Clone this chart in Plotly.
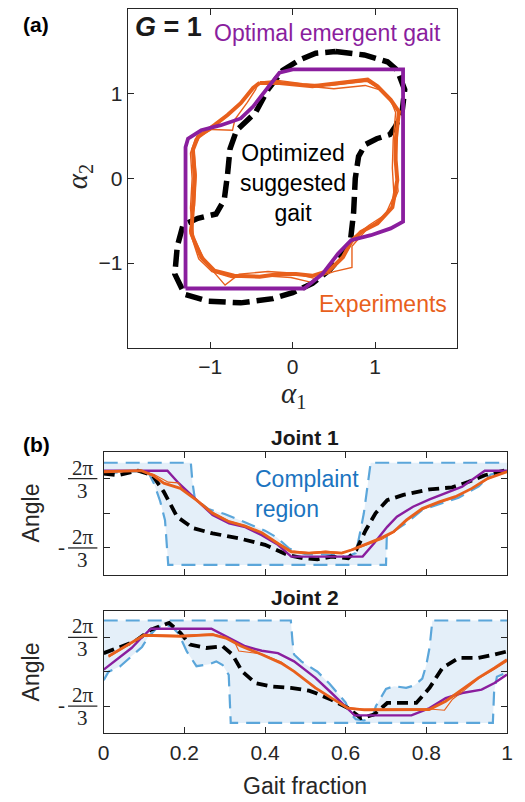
import numpy as np
import plotly.graph_objects as go

W, H = 525, 802
TP = 2 * np.pi / 3  # 2*pi/3, tick value in panel (b)

# ---------------- Panel (a): shape space (alpha1, alpha2) ----------------
opt_a1 = [-1.30, 0.14, 0.36, 0.55, 0.71, 0.95, 1.19, 1.34, 1.34, 0.00, -0.16, -0.32, -0.48, -0.63, -0.87, -1.11, -1.27, -1.30, -1.30]
opt_a2 = [-1.30, -1.30, -1.13, -0.89, -0.73, -0.67, -0.59, -0.51, 1.29, 1.29, 1.25, 1.05, 0.85, 0.71, 0.63, 0.57, 0.47, 0.37, -1.30]

sug_a1 = [0.52, 0.87, 1.15, 1.27, 1.36, 1.33, 1.25, 1.18, 1.02, 0.88, 0.80, 0.76, 0.74, 0.70, 0.58, 0.45, 0.24, 0.00, -0.24, -0.63, -1.03, -1.31, -1.43, -1.40, -1.33, -1.15, -0.93, -0.83, -0.79, -0.76, -0.68, -0.45, -0.30, -0.12, 0.08, 0.28, 0.52]
sug_a2 = [1.50, 1.46, 1.38, 1.28, 1.05, 0.80, 0.62, 0.52, 0.47, 0.40, 0.26, 0.00, -0.40, -0.75, -0.93, -1.08, -1.24, -1.35, -1.42, -1.47, -1.45, -1.37, -1.13, -0.80, -0.55, -0.47, -0.42, -0.25, 0.05, 0.35, 0.57, 0.78, 1.05, 1.28, 1.40, 1.48, 1.50]

exp_a1 = [-0.40, -0.16, 0.24, 0.63, 0.91, 1.03, 1.19, 1.29, 1.25, 1.25, 1.27, 1.21, 1.03, 0.83, 0.71, 0.61, 0.44, 0.24, 0.04, -0.16, -0.40, -0.71, -0.95, -1.11, -1.23, -1.21, -1.19, -1.21, -1.15, -0.95, -0.79, -0.63, -0.48, -0.40]
exp_a2 = [1.13, 1.13, 1.09, 1.13, 1.17, 1.09, 0.93, 0.79, 0.45, 0.22, -0.02, -0.34, -0.53, -0.63, -0.75, -0.93, -1.09, -1.15, -1.13, -1.13, -1.16, -1.15, -1.09, -0.93, -0.65, -0.34, 0.02, 0.34, 0.49, 0.63, 0.75, 0.89, 1.07, 1.13]

exp_b_a1 = [-0.42, -0.22, 0.10, 0.50, 0.88, 1.05, 1.20, 1.25, 1.22, 1.21, 1.23, 1.12, 0.90, 0.72, 0.72, 0.50, 0.26, 0.02, -0.30, -0.65, -0.82, -1.05, -1.20, -1.24, -1.22, -1.24, -1.18, -0.98, -0.73, -0.70, -0.55, -0.45, -0.42]
exp_b_a2 = [1.12, 1.13, 1.10, 1.06, 1.10, 1.05, 0.90, 0.78, 0.45, 0.12, -0.20, -0.44, -0.60, -0.80, -1.05, -1.10, -1.18, -1.12, -1.10, -1.13, -1.26, -1.00, -0.70, -0.35, 0.00, 0.30, 0.47, 0.58, 0.57, 0.70, 0.90, 1.05, 1.12]

exp_c_a1 = [-0.38, -0.18, 0.12, 0.45, 0.90, 1.02, 1.17, 1.28, 1.27, 1.25, 1.28, 1.17, 0.93, 0.73, 0.62, 0.46, 0.24, -0.02, -0.35, -0.74, -0.98, -1.14, -1.25, -1.19, -1.17, -1.20, -1.12, -0.92, -0.76, -0.60, -0.46, -0.38]
exp_c_a2 = [1.14, 1.16, 1.12, 1.10, 1.15, 1.08, 0.95, 0.82, 0.45, 0.16, -0.15, -0.40, -0.55, -0.70, -0.90, -1.06, -1.23, -1.17, -1.15, -1.17, -1.10, -0.95, -0.62, -0.32, 0.04, 0.36, 0.51, 0.65, 0.78, 0.92, 1.09, 1.14]

# ---------------- Panel (b): joint angles vs gait fraction ----------------
# angle values below are in units of 2*pi/3 (converted to radians when plotted)
j1_opt_t = [0, 0.158, 0.186, 0.23, 0.27, 0.311, 0.351, 0.392, 0.432, 0.465, 0.642, 0.67, 0.703, 0.727, 0.767, 0.808, 0.848, 0.889, 0.945, 1.0]
j1_opt_u = [1.23, 1.23, 0.87, 0.38, -0.05, -0.29, -0.40, -0.63, -0.91, -1.25, -1.25, -0.87, -0.39, -0.10, 0.19, 0.40, 0.58, 0.77, 1.23, 1.23]

j1_sug_t = [0, 0.036, 0.085, 0.121, 0.149, 0.182, 0.222, 0.27, 0.335, 0.40, 0.456, 0.497, 0.53, 0.565, 0.606, 0.626, 0.65, 0.674, 0.703, 0.743, 0.808, 0.864, 0.905, 0.945, 1.0]
j1_sug_u = [1.15, 1.10, 1.23, 1.10, 0.62, -0.10, -0.43, -0.58, -0.72, -0.91, -1.20, -1.30, -1.33, -1.25, -1.30, -1.06, -0.48, 0.0, 0.38, 0.53, 0.69, 0.75, 0.91, 1.10, 1.25]

j1_exp_t = [0, 0.093, 0.121, 0.149, 0.19, 0.23, 0.27, 0.311, 0.351, 0.392, 0.432, 0.465, 0.507, 0.55, 0.59, 0.614, 0.646, 0.686, 0.719, 0.751, 0.79, 0.832, 0.872, 0.913, 0.953, 1.0]
j1_exp_u = [1.20, 1.23, 1.10, 0.87, 0.72, 0.38, 0.0, -0.24, -0.37, -0.56, -0.87, -1.11, -1.15, -1.12, -1.15, -1.06, -0.91, -0.72, -0.53, -0.19, 0.14, 0.33, 0.48, 0.72, 1.01, 1.20]

j1_exp2_t = [0, 0.09, 0.125, 0.16, 0.185, 0.195, 0.23, 0.27, 0.31, 0.35, 0.39, 0.43, 0.465, 0.51, 0.55, 0.59, 0.62, 0.65, 0.69, 0.72, 0.75, 0.79, 0.83, 0.87, 0.91, 0.95, 1.0]
j1_exp2_u = [1.22, 1.24, 1.12, 0.90, 0.88, 0.70, 0.40, 0.03, -0.22, -0.35, -0.55, -0.85, -1.09, -1.13, -1.09, -1.13, -1.05, -0.92, -0.75, -0.55, -0.22, 0.10, 0.30, 0.46, 0.70, 0.98, 1.22]

j1_up_t = [0, 0.216, 0.220, 0.226, 0.26, 0.30, 0.35, 0.40, 0.43, 0.46, 0.50, 0.58, 0.60, 0.625, 0.635, 0.645, 0.652, 0.658, 0.662, 1.0]
j1_up_u = [1.46, 1.46, 0.90, 0.42, 0.12, -0.02, -0.26, -0.50, -0.70, -1.02, -1.18, -1.20, -1.26, -1.15, -0.60, 0.0, 0.60, 1.10, 1.46, 1.46]
j1_lo_t = [0, 0.08, 0.11, 0.125, 0.14, 0.152, 0.16, 0.70, 0.702, 0.72, 0.75, 0.79, 0.83, 0.88, 0.93, 0.96, 1.0]
j1_lo_u = [1.15, 1.22, 1.20, 0.85, 0.35, -0.20, -1.49, -1.49, -0.65, -0.52, -0.28, 0.10, 0.25, 0.45, 0.78, 1.12, 1.22]

j2_opt_t = [0, 0.036, 0.069, 0.093, 0.117, 0.267, 0.311, 0.351, 0.392, 0.432, 0.472, 0.525, 0.565, 0.598, 0.622, 0.763, 0.808, 0.848, 0.889, 0.937, 0.969, 1.0]
j2_opt_u = [0.06, 0.40, 0.69, 0.98, 1.25, 1.25, 0.98, 0.74, 0.61, 0.54, 0.30, -0.18, -0.62, -1.01, -1.27, -1.27, -1.06, -0.77, -0.62, -0.52, -0.33, -0.08]

j2_sug_t = [0, 0.036, 0.077, 0.117, 0.162, 0.19, 0.214, 0.254, 0.295, 0.319, 0.343, 0.376, 0.416, 0.464, 0.509, 0.525, 0.565, 0.606, 0.638, 0.67, 0.703, 0.743, 0.775, 0.808, 0.84, 0.88, 0.929, 0.969, 1.0]
j2_sug_u = [0.54, 0.69, 0.88, 1.22, 1.42, 1.13, 0.79, 0.69, 0.74, 0.50, 0.01, -0.33, -0.43, -0.47, -0.55, -0.62, -0.82, -1.06, -1.35, -1.25, -0.91, -0.91, -0.91, -0.47, 0.11, 0.40, 0.40, 0.50, 0.59]

j2_exp_t = [0.012, 0.053, 0.10, 0.19, 0.27, 0.303, 0.34, 0.392, 0.44, 0.472, 0.525, 0.565, 0.606, 0.646, 0.72, 0.807, 0.848, 0.889, 0.929, 0.969, 1.0]
j2_exp_u = [0.45, 0.74, 1.06, 1.03, 1.08, 0.98, 0.75, 0.50, 0.25, 0.01, -0.47, -0.77, -1.06, -1.11, -1.10, -1.10, -0.86, -0.52, -0.18, 0.11, 0.35]

j2_exp2_t = [0.012, 0.053, 0.10, 0.19, 0.27, 0.30, 0.325, 0.335, 0.39, 0.44, 0.47, 0.52, 0.56, 0.60, 0.64, 0.72, 0.80, 0.845, 0.865, 0.89, 0.93, 0.97, 1.0]
j2_exp2_u = [0.43, 0.72, 1.08, 1.06, 1.10, 1.00, 0.85, 0.60, 0.52, 0.28, 0.03, -0.44, -0.74, -1.04, -1.09, -1.08, -1.08, -1.12, -0.80, -0.58, -0.20, 0.08, 0.30]

j2_up_t = [0, 0.464, 0.468, 0.472, 0.49, 0.53, 0.56, 0.60, 0.61, 0.625, 0.645, 0.665, 0.675, 0.686, 0.70, 0.72, 0.75, 0.77, 0.79, 0.80, 0.808, 0.815, 1.0]
j2_up_u = [1.49, 1.49, 0.90, 0.50, 0.30, 0.0, -0.35, -0.90, -1.20, -1.38, -1.42, -1.35, -1.00, -0.77, -0.50, -0.42, -0.47, -0.40, -0.20, 0.20, 0.70, 1.49, 1.49]
j2_lo_t = [0, 0.012, 0.04, 0.07, 0.095, 0.11, 0.13, 0.15, 0.17, 0.186, 0.206, 0.23, 0.262, 0.279, 0.295, 0.31, 0.315, 0.965, 0.968, 0.975, 1.0]
j2_lo_u = [-0.25, 0.0, 0.15, 0.45, 0.72, 1.00, 1.25, 1.38, 1.30, 1.10, 0.59, 0.16, 0.22, 0.30, 0.19, -0.09, -1.49, -1.49, -0.60, -0.15, -0.02]

PURPLE = '#8A1E9E'
ORANGE = '#E8601C'
BLUE_LINE = '#5BA6DA'
BLUE_FILL = '#E4EFF9'
BLUE_TEXT = '#1B74C0'
DARK = '#262626'
SANS = 'Liberation Sans, Arial, sans-serif'
SERIF = 'Liberation Serif, Times New Roman, serif'


def rad(u):
    return (np.array(u) * TP).tolist()


def X(p):
    return p / W


def Y(p):
    return 1 - p / H


fig = go.Figure()

# ---- panel (a) traces ----
fig.add_trace(go.Scatter(x=sug_a1, y=sug_a2, mode='lines', xaxis='x', yaxis='y',
                         line=dict(color='black', width=5.5, dash='17px,7px')))
for xs, ys in [(exp_b_a1, exp_b_a2), (exp_c_a1, exp_c_a2)]:
    fig.add_trace(go.Scatter(x=xs, y=ys, mode='lines', xaxis='x', yaxis='y',
                             line=dict(color=ORANGE, width=1.4)))
fig.add_trace(go.Scatter(x=exp_a1, y=exp_a2, mode='lines', xaxis='x', yaxis='y',
                         line=dict(color=ORANGE, width=4)))
fig.add_trace(go.Scatter(x=opt_a1, y=opt_a2, mode='lines', xaxis='x', yaxis='y',
                         line=dict(color=PURPLE, width=3.8)))

# ---- panel (b) traces ----
joints = [
    ('x2', 'y2', j1_up_t, j1_up_u, j1_lo_t, j1_lo_u, j1_sug_t, j1_sug_u, j1_opt_t, j1_opt_u,
     j1_exp2_t, j1_exp2_u, j1_exp_t, j1_exp_u),
    ('x3', 'y3', j2_up_t, j2_up_u, j2_lo_t, j2_lo_u, j2_sug_t, j2_sug_u, j2_opt_t, j2_opt_u,
     j2_exp2_t, j2_exp2_u, j2_exp_t, j2_exp_u),
]
for (xa, ya, ut, uu, lt, lu, st, su, ot, ou, e2t, e2u, et, eu) in joints:
    poly_t = list(ut) + list(lt)[::-1]
    poly_u = list(uu) + list(lu)[::-1]
    fig.add_trace(go.Scatter(x=poly_t, y=rad(poly_u), mode='lines', fill='toself',
                             fillcolor=BLUE_FILL, line=dict(width=0), xaxis=xa, yaxis=ya))
    fig.add_trace(go.Scatter(x=ut, y=rad(uu), mode='lines', xaxis=xa, yaxis=ya,
                             line=dict(color=BLUE_LINE, width=2.2, dash='14px,8px')))
    fig.add_trace(go.Scatter(x=lt, y=rad(lu), mode='lines', xaxis=xa, yaxis=ya,
                             line=dict(color=BLUE_LINE, width=2.2, dash='14px,8px')))
    fig.add_trace(go.Scatter(x=st, y=rad(su), mode='lines', xaxis=xa, yaxis=ya,
                             line=dict(color='black', width=3.8, dash='11px,6px')))
    fig.add_trace(go.Scatter(x=ot, y=rad(ou), mode='lines', xaxis=xa, yaxis=ya,
                             line=dict(color=PURPLE, width=2.4)))
    fig.add_trace(go.Scatter(x=e2t, y=rad(e2u), mode='lines', xaxis=xa, yaxis=ya,
                             line=dict(color=ORANGE, width=1.1)))
    fig.add_trace(go.Scatter(x=et, y=rad(eu), mode='lines', xaxis=xa, yaxis=ya,
                             line=dict(color=ORANGE, width=2.8)))

ax = dict(showline=True, linecolor=DARK, linewidth=1.3, mirror='ticks', ticks='inside',
          ticklen=6, tickwidth=1.2, tickcolor=DARK, showgrid=False, zeroline=False,
          tickfont=dict(family=SANS, size=21, color=DARK))

fig.update_layout(
    width=W, height=H, margin=dict(l=0, r=0, t=0, b=0),
    paper_bgcolor='white', plot_bgcolor='white', showlegend=False,
    xaxis=dict(ax, domain=[X(124.7), X(462)], range=[-2, 2], anchor='y',
               tickvals=[-1, 0, 1], ticktext=['\u22121', '0', '1']),
    yaxis=dict(ax, domain=[Y(347.7), Y(9.3)], range=[-2, 2], anchor='x',
               tickvals=[-1, 0, 1], ticktext=['\u22121', '0', '1']),
    xaxis2=dict(ax, domain=[X(100), X(512.7)], range=[0, 1], anchor='y2',
                tickvals=[0, 0.2, 0.4, 0.6, 0.8, 1], showticklabels=False),
    yaxis2=dict(ax, domain=[Y(575), Y(452.3)], range=[-3.73, 3.69], anchor='x2',
                tickvals=[-TP, 0, TP], showticklabels=False),
    xaxis3=dict(ax, domain=[X(100), X(512.7)], range=[0, 1], anchor='y3',
                tickvals=[0, 0.2, 0.4, 0.6, 0.8, 1], ticktext=['0', '0.2', '0.4', '0.6', '0.8', '1']),
    yaxis3=dict(ax, domain=[Y(733.3), Y(611)], range=[-3.755, 3.70], anchor='x3',
                tickvals=[-TP, 0, TP], showticklabels=False),
)

ann = []


def txt(x, y, text, size=23, color='black', family=SANS, xanchor='center', angle=0, align='center'):
    ann.append(dict(x=X(x), y=Y(y), xref='paper', yref='paper', text=text, showarrow=False,
                    xanchor=xanchor, yanchor='middle', textangle=angle, align=align,
                    font=dict(family=family, size=size, color=color)))


# panel (a) texts
txt(31, 24, '<b>(a)</b>', size=21)
txt(130, 27, '<b><i>G</i> = 1</b>', size=27, color='#1a1a1a', xanchor='left')
txt(211, 33, 'Optimal emergent gait', size=23, color=PURPLE, xanchor='left')
txt(294, 183, 'Optimized<br>suggested<br>gait', size=23)
txt(318, 304, 'Experiments', size=23, color=ORANGE, xanchor='left')
txt(294, 395, '<i>α</i><sub>1</sub>', size=29, family=SERIF, color=DARK)
txt(75, 177, '<i>α</i><sub>2</sub>', size=29, family=SERIF, color=DARK, angle=-90)

# panel (b) texts
txt(31, 444, '<b>(b)</b>', size=21)
txt(306, 437, '<b>Joint 1</b>', size=21, color='#1a1a1a')
txt(306, 597, '<b>Joint 2</b>', size=21, color='#1a1a1a')
txt(253, 494, 'Complaint<br>region', size=23, color=BLUE_TEXT, xanchor='left', align='left')
txt(26, 513, 'Angle', size=23, color=DARK, angle=-90)
txt(26, 672, 'Angle', size=23, color=DARK, angle=-90)
txt(306, 786, 'Gait fraction', size=23, color=DARK)

# fraction tick labels for +-2pi/3 on both joint axes
shapes = []
for yref in ['y2', 'y3']:
    for sgn in [1, -1]:
        val = sgn * TP
        ann.append(dict(x=X(78.5), y=val, xref='paper', yref=yref, text='2π', showarrow=False,
                        xanchor='center', yanchor='middle', yshift=11,
                        font=dict(family=SERIF, size=21, color=DARK)))
        ann.append(dict(x=X(78.5), y=val, xref='paper', yref=yref, text='3', showarrow=False,
                        xanchor='center', yanchor='middle', yshift=-12,
                        font=dict(family=SERIF, size=21, color=DARK)))
        shapes.append(dict(type='line', xref='paper', yref=yref, x0=X(63.5), x1=X(93.5),
                           y0=val, y1=val, line=dict(color=DARK, width=1.3)))
        if sgn < 0:
            ann.append(dict(x=X(56.5), y=val, xref='paper', yref=yref, text='-', showarrow=False,
                            xanchor='center', yanchor='middle', yshift=1,
                            font=dict(family=SERIF, size=21, color=DARK)))

fig.update_layout(annotations=ann, shapes=shapes)
fig.write_html('out.html', config={'displayModeBar': False},
               post_script="document.body.style.margin='0px';document.body.style.overflow='hidden';")
